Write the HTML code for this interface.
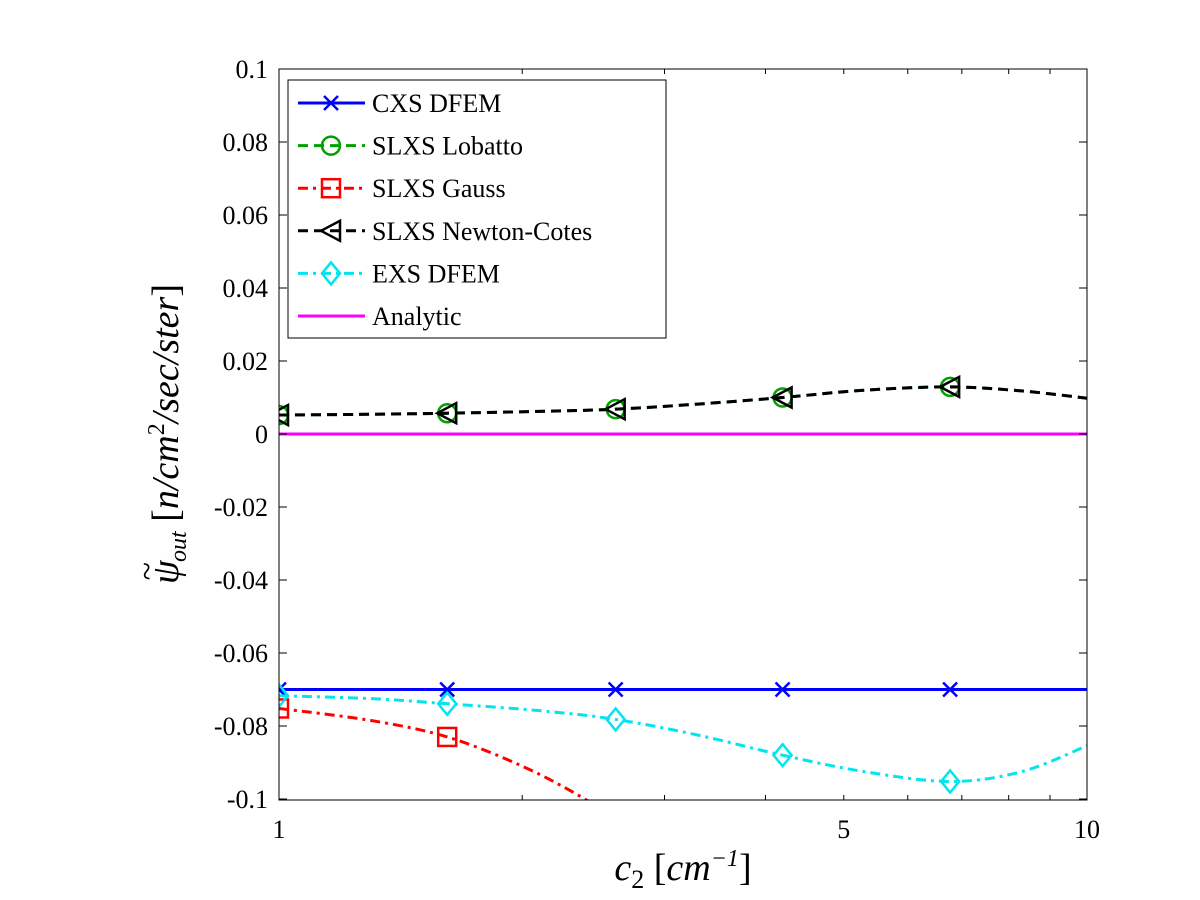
<!DOCTYPE html>
<html><head><meta charset="utf-8"><style>
body{margin:0;background:#fff}
svg{display:block}
text{font-family:"Liberation Serif",serif;fill:#000}
</style></head><body>
<svg width="1200" height="900" id="c">
<rect x="0" y="0" width="1200" height="900" fill="#fff"/>
<defs><clipPath id="cp"><rect x="279" y="69" width="808" height="731"/></clipPath></defs>
<g id="plot" clip-path="url(#cp)"></g>
<rect x="279" y="69" width="808" height="731" fill="none" stroke="#000" stroke-width="1"/>
<g id="axes"></g>
<g id="legend"></g>
<text x="683" y="880" font-size="38" text-anchor="middle" font-style="italic">c<tspan font-style="normal" font-size="26" dy="8">2</tspan><tspan dy="-8" font-style="normal"> [</tspan>cm<tspan font-size="24" dy="-14">−1</tspan><tspan dy="14" font-style="normal">]</tspan></text>
<text transform="translate(178,434) rotate(-90)" font-size="38" text-anchor="middle" font-style="italic">ψ<tspan font-size="34" font-style="normal" dx="-20" dy="-20">~</tspan><tspan font-size="24" dy="28">out</tspan><tspan dy="-8" font-style="normal"> [</tspan>n/cm<tspan font-size="24" dy="-14" font-style="normal">2</tspan><tspan dy="14">/sec/ster</tspan><tspan font-style="normal">]</tspan></text>
</svg>
<script>
const xs=[1,1.3,1.615,2.1,2.61,3.3,4.2,5.3,6.77,8.3,10];
const cxs=[-0.07,-0.07,-0.07,-0.07,-0.07,-0.07,-0.07,-0.07,-0.07,-0.07,-0.07];
const lob=[0.0052,0.0054,0.0057,0.0062,0.0068,0.0082,0.0100,0.0120,0.0129,0.0118,0.0098];
const gaussX=[1,1.3,1.615,2.0,2.39,2.8];
const gauss=[-0.0752,-0.0785,-0.083,-0.091,-0.1,-0.11];
const exs=[-0.0717,-0.0725,-0.0739,-0.0758,-0.0782,-0.0825,-0.088,-0.0925,-0.0952,-0.0925,-0.0854];
const markIdx=[0,2,4,6,8];
const yTicks=[0.1,0.08,0.06,0.04,0.02,0,-0.02,-0.04,-0.06,-0.08,-0.1];
const yTickLabels=["0.1","0.08","0.06","0.04","0.02","0","-0.02","-0.04","-0.06","-0.08","-0.1"];
const xTicks=[1,5,10];
const xTickLabels=["1","5","10"];
const X0=279,X1=1087,Y0=800,Y1=69;
const sx=v=>X0+(X1-X0)*Math.log10(v);
const sy=v=>434-(v)*(434-69)/0.1;
const NS="http://www.w3.org/2000/svg";
function mk(t,a,p){const e=document.createElementNS(NS,t);for(const k in a)e.setAttribute(k,a[k]);p.appendChild(e);return e;}
const plot=document.getElementById('plot'),axes=document.getElementById('axes'),leg=document.getElementById('legend');
function curve(px,py){const P=px.map((x,i)=>[sx(x),sy(py[i])]);let d=`M${P[0][0]},${P[0][1]}`;
for(let i=0;i<P.length-1;i++){const p0=P[i-1]||P[i],p1=P[i],p2=P[i+1],p3=P[i+2]||P[i+1];
d+=` C${p1[0]+(p2[0]-p0[0])/6},${p1[1]+(p2[1]-p0[1])/6} ${p2[0]-(p3[0]-p1[0])/6},${p2[1]-(p3[1]-p1[1])/6} ${p2[0]},${p2[1]}`;}return d;}
function marker(kind,x,y,col,parent){
 let e;const r=9;
 if(kind=='x'){e=mk('path',{d:`M${x-7},${y-7}L${x+7},${y+7}M${x-7},${y+7}L${x+7},${y-7}`,stroke:col,'stroke-width':2.5,fill:'none'},parent);}
 else if(kind=='o'){e=mk('circle',{cx:x,cy:y,r:r,stroke:col,'stroke-width':2.5,fill:'none'},parent);}
 else if(kind=='s'){e=mk('rect',{x:x-r,y:y-r,width:2*r,height:2*r,stroke:col,'stroke-width':2.5,fill:'none'},parent);}
 else if(kind=='<'){e=mk('path',{d:`M${x-10},${y}L${x+9},${y-10}L${x+9},${y+10}Z`,stroke:col,'stroke-width':2.5,fill:'none'},parent);}
 else {e=mk('path',{d:`M${x},${y-11}L${x+9},${y}L${x},${y+11}L${x-9},${y}Z`,stroke:col,'stroke-width':2.5,fill:'none'},parent);}
 
 
}
const series=[
 {name:"CXS DFEM",col:"#0000ff",dash:"",m:'x',xv:xs,yv:cxs},
 {name:"SLXS Lobatto",col:"#00a000",dash:"10,6",m:'o',xv:xs,yv:lob},
 {name:"SLXS Gauss",col:"#ff0000",dash:"10,5,3,5",m:'s',xv:gaussX,yv:gauss},
 {name:"SLXS Newton-Cotes",col:"#000000",dash:"10,6",m:'<',xv:xs,yv:lob},
 {name:"EXS DFEM",col:"#00e5ee",dash:"10,5,3,5",m:'d',xv:xs,yv:exs},
 {name:"Analytic",col:"#ff00ff",dash:"",m:null,xv:[1,10],yv:[0,0]}
];
const an=mk('line',{x1:sx(1),x2:sx(10),y1:sy(0),y2:sy(0),stroke:'#ff00ff','stroke-width':3},plot);

series.slice(0,5).forEach((s,k)=>{
 const p=mk('path',{d:curve(s.xv,s.yv),stroke:s.col,'stroke-width':3,fill:'none','stroke-dasharray':s.dash},plot);
 
 markIdx.forEach(i=>{if(i<s.xv.length&&s.yv[i]>-0.0995)marker(s.m,sx(s.xv[i]),sy(s.yv[i]),s.col,plot);});
});
yTicks.forEach((v,i)=>{const y=sy(v);
 mk('line',{x1:X0,x2:X0+8,y1:y,y2:y,stroke:'#000'},axes);mk('line',{x1:X1,x2:X1-8,y1:y,y2:y,stroke:'#000'},axes);
 const t=mk('text',{x:268,y:y+9,'font-size':26,'text-anchor':'end'},axes);t.textContent=yTickLabels[i];
 });
for(let v=1;v<=10;v++){const x=sx(v);const L=(v==1||v==10)?8:5;
 mk('line',{x1:x,x2:x,y1:Y0,y2:Y0-L,stroke:'#000'},axes);mk('line',{x1:x,x2:x,y1:Y1,y2:Y1+L,stroke:'#000'},axes);}
xTicks.forEach((v,i)=>{const t=mk('text',{x:sx(v),y:838,'font-size':26,'text-anchor':'middle'},axes);t.textContent=xTickLabels[i];
 });
mk('rect',{x:288,y:80,width:378,height:258,fill:'#fff',stroke:'#000'},leg);
series.forEach((s,i)=>{const y=103+i*42.6;
 const g=mk('g',{},leg);
 mk('line',{x1:298,x2:365,y1:y,y2:y,stroke:s.col,'stroke-width':3,'stroke-dasharray':s.dash},g);
 if(s.m)marker(s.m,331,y,s.col,g);
 const t=mk('text',{x:372,y:y+9,'font-size':26},g);t.textContent=s.name;});
</script>
</body></html>
